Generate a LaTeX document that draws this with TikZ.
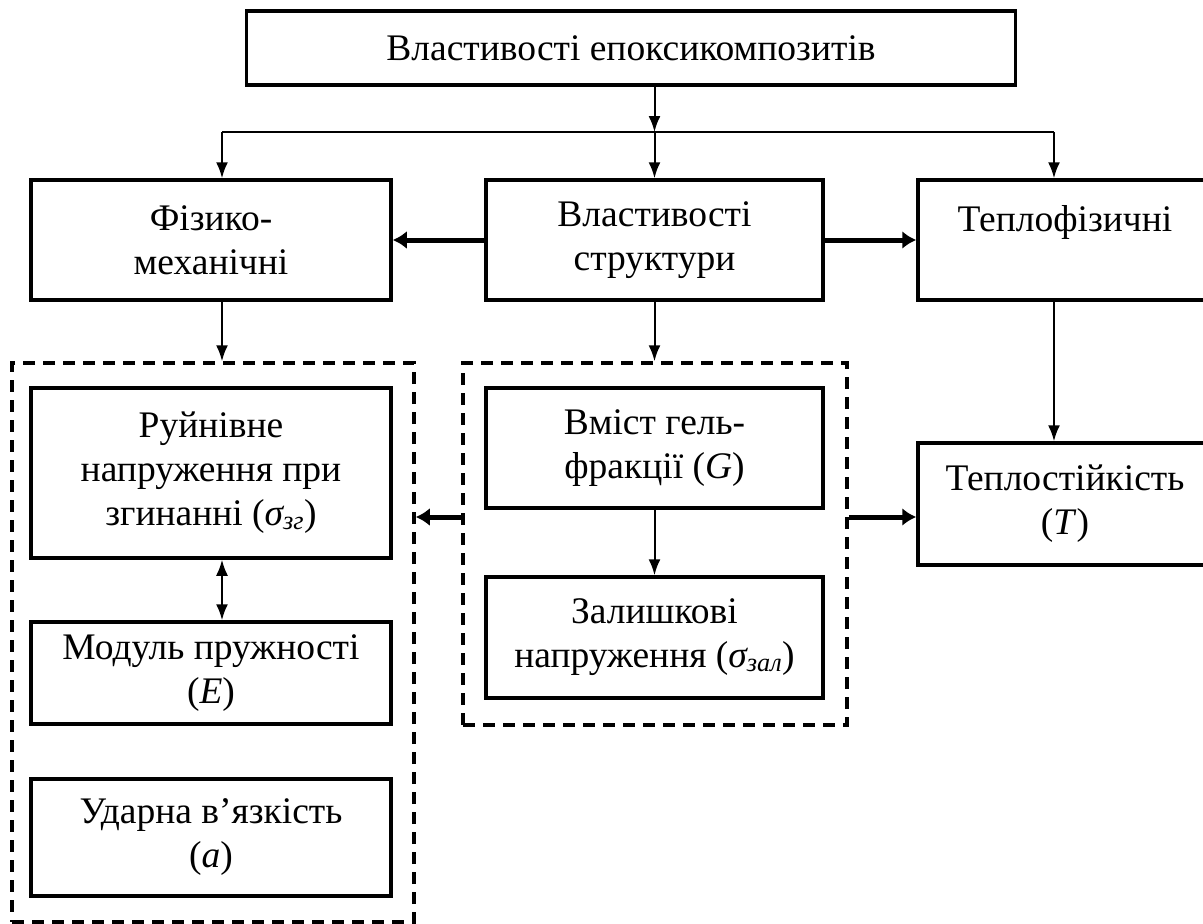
\documentclass[tikz,border=0pt]{standalone}
\usepackage{fontspec}
\setmainfont{Liberation Serif}
\usetikzlibrary{arrows.meta}
\begin{document}
\begin{tikzpicture}[x=1pt,y=-1pt,
  box/.style={draw, line width=3.5pt, align=center, inner sep=0pt,
    font=\fontsize{37.5}{44}\selectfont},
  grp/.style={draw, line width=3.5pt, dash pattern=on 12pt off 8pt, inner sep=0pt},
  arr/.style={line width=2pt, -{Latex[length=16pt,width=12pt]}},
  darr/.style={line width=2pt, {Latex[length=16pt,width=12pt]}-{Latex[length=16pt,width=12pt]}},
  tarr/.style={line width=5pt, -{Latex[length=14pt,width=18pt]}}]
\useasboundingbox (0,0) rectangle (1203,924);
% top
\node[box, minimum width=769, minimum height=74] (top) at (631,48) {Властивості епоксикомпозитів};
% second row
\node[box, minimum width=360, minimum height=120] (fm) at (211,240) {Фізико-\\механічні};
\node[box, minimum width=337, minimum height=120] (mid) at (654.5,240) {Властивості\\структури};
\node[box, minimum width=294, minimum height=120] (tf) at (1065,240) {Теплофізичні\\\phantom{X}};
% groups
\node[grp, minimum width=402, minimum height=559] (dashL) at (213,642.5) {};
\node[grp, minimum width=384, minimum height=362] (dashM) at (655,544) {};
% inner boxes
\node[box, minimum width=360, minimum height=170] (ruin) at (211,473) {Руйнівне\\напруження при\\згинанні (\textit{σ\textsubscript{зг}})};
\node[box, minimum width=360, minimum height=102] (mod) at (211,673) {Модуль пружності\\(\textit{E})};
\node[box, minimum width=360, minimum height=117] (udar) at (211,837.5) {Ударна в’язкість\\(\textit{a})};
\node[box, minimum width=337, minimum height=120] (gel) at (654.5,448) {Вміст гель-\\фракції (\textit{G})};
\node[box, minimum width=337, minimum height=121] (zal) at (654.5,637.5) {Залишкові\\напруження (\textit{σ\textsubscript{зал}})};
\node[box, minimum width=294, minimum height=122] (tep) at (1065,504) {Теплостійкість\\(\textit{T})};
% connectors
\coordinate (bL) at (222,132);
\coordinate (bR) at (1054,132);
\coordinate (ya) at (0,517);
\draw[line width=2pt] (bL) -- (bR);
\draw[arr] (top.south -| mid.north) -- (mid.north |- bL);
\draw[arr] (bL) -- (bL |- fm.north);
\draw[arr] (mid.north |- bL) -- (mid.north);
\draw[arr] (bR) -- (bR |- tf.north);
\draw[tarr] (mid.west) -- (mid.west -| fm.east);
\draw[tarr] (mid.east) -- (mid.east -| tf.west);
\draw[arr] (fm.south -| bL) -- (bL |- dashL.north);
\draw[arr] (mid.south) -- (mid.south |- dashM.north);
\draw[arr] (tf.south -| bR) -- (bR |- tep.north);
\draw[tarr] (dashM.west |- ya) -- (dashL.east |- ya);
\draw[tarr] (dashM.east |- ya) -- (tep.west |- ya);
\draw[darr] (ruin.south -| bL) -- (bL |- mod.north);
\draw[arr] (gel.south) -- (zal.north);
\end{tikzpicture}
\end{document}
